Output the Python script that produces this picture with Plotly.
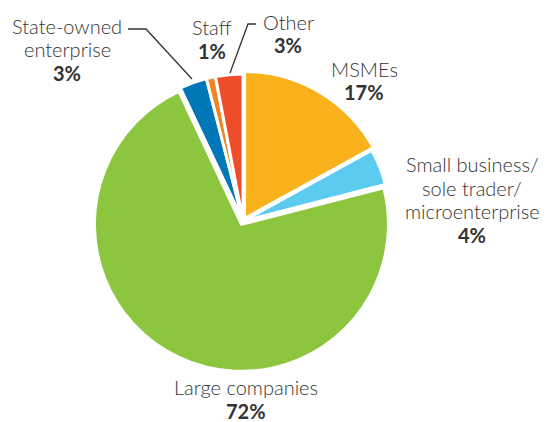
import plotly.graph_objects as go

# Share of respondents by organisation type
categories = ["MSMEs", "Small business/ sole trader/ microenterprise", "Large companies",
              "State-owned enterprise", "Staff", "Other"]
values = [17, 4, 72, 3, 1, 3]
colors = ["#F9B21B", "#5BCBEF", "#8CC63F", "#0078B8", "#F58220", "#EE4D2A"]
pulls = [0.02, 0, 0.025, 0, 0, 0]

# how each category name is broken into label lines
label_lines = [
    ["MSMEs"],
    ["Small business/", "sole trader/", "microenterprise"],
    ["Large companies"],
    ["State-owned", "enterprise"],
    ["Staff"],
    ["Other"],
]
# label block centre x and first-line centre y (px from top-left)
label_xy = [(364, 69), (472, 164), (246, 387), (67, 26), (212, 27), (288, 22)]
LINE_STEP = 23.5

W, H = 547, 422
cx, cy, r = 243, 221, 147
r_dom = r * (1 + max(pulls))  # pulled slices shrink the pie inside its domain

fig = go.Figure(go.Pie(
    labels=categories,
    values=values,
    sort=False,
    direction="clockwise",
    rotation=0,
    pull=pulls,
    marker=dict(colors=colors, line=dict(color="white", width=3)),
    textinfo="none",
    hoverinfo="label+percent",
    showlegend=False,
    domain=dict(x=[(cx - r_dom) / W, (cx + r_dom) / W],
                y=[(H - cy - r_dom) / H, (H - cy + r_dom) / H]),
))

def px(x, y):
    return x / W, 1 - y / H

name_font = dict(family="Lato", size=20, color="#333333", weight=300)
pct_font = dict(family="Lato", size=20, color="#333333", weight=700)
for lines, v, (x, y) in zip(label_lines, values, label_xy):
    rows = [(t, name_font) for t in lines] + [(f"{v}%", pct_font)]
    for i, (t, f) in enumerate(rows):
        ax, ay = px(x, y + i * LINE_STEP)
        fig.add_annotation(
            x=ax, y=ay, xref="paper", yref="paper", text=t, showarrow=False,
            font=f, xanchor="center", yanchor="middle", borderpad=0,
        )

# leader lines for the small slices
leaders = [
    [(128, 29), (146, 29), (192, 79)],   # State-owned enterprise
    [(256, 24), (248, 24), (230, 73)],   # Other
]
for pts in leaders:
    xs, ys = zip(*[px(*p) for p in pts])
    path = "M " + " L ".join(f"{a},{b}" for a, b in zip(xs, ys))
    fig.add_shape(type="path", path=path, xref="paper", yref="paper",
                  line=dict(color="#333333", width=1.3))

fig.update_layout(
    width=W, height=H,
    margin=dict(l=0, r=0, t=0, b=0),
    paper_bgcolor="white", plot_bgcolor="white",
)

fig.write_html("out.html")
